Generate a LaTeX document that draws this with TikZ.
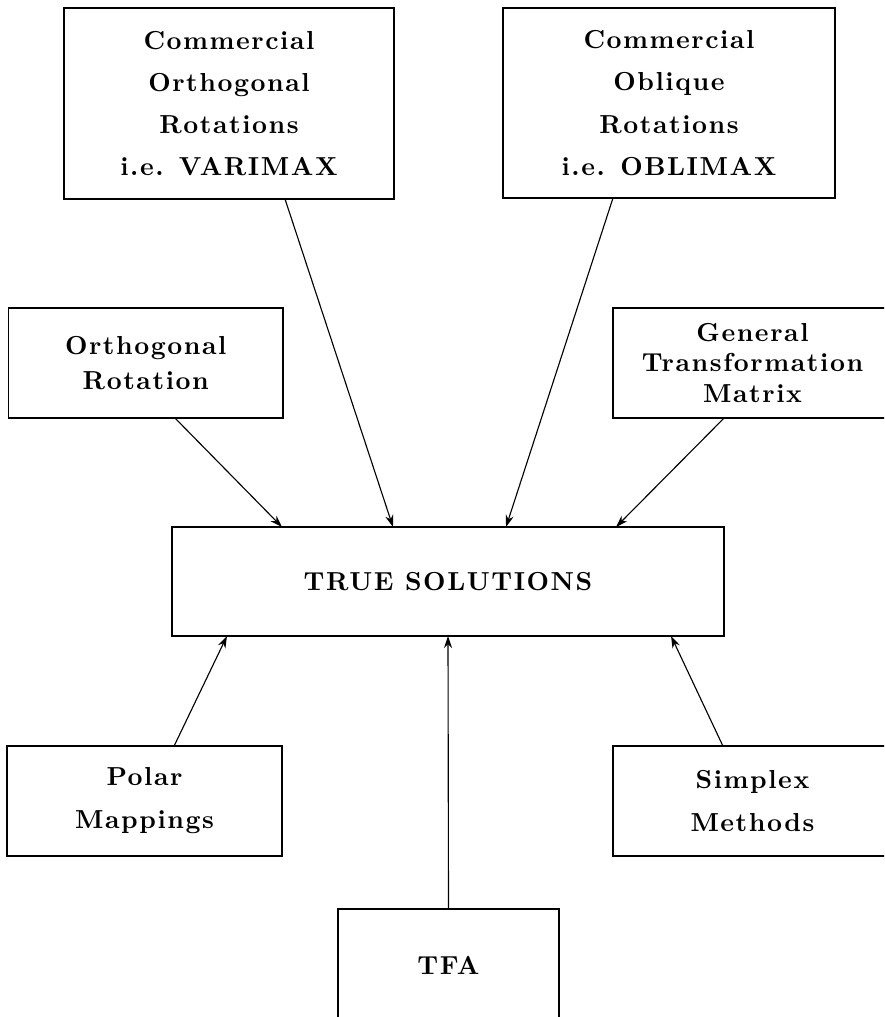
\documentclass[tikz,border=0pt]{standalone}
\usepackage{fontspec}
\usepackage{tikz}
\usetikzlibrary{positioning, arrows.meta}
\newfontfamily\spacedbf{lmroman10-bold}[Extension=.otf, LetterSpace=6]
\newcommand{\boxfont}[1]{\fontsize{18.5}{#1}\selectfont\spacedbf}

\begin{document}
\begin{tikzpicture}[x=0.025cm, y=-0.025cm,
  box/.style={draw, line width=1.3pt, inner sep=0pt, outer sep=0pt, align=center, font=\boxfont{#1}},
  box/.default=30pt,
  feed/.style={-{Stealth[length=3mm, width=2mm]}, line width=0.8pt}]
\clip (0,0) rectangle (884,1017);
% upper row
\node (comorth) [box, minimum width=8.25cm, minimum height=4.775cm] at (229,103.5) {Commercial\\Orthogonal\\Rotations\\i.e. VARIMAX};
\node (comobl) [box, minimum width=8.3cm, minimum height=4.75cm] at (669,103) {Commercial\\Oblique\\Rotations\\i.e. OBLIMAX};
\node (orthrot) [box=25pt, minimum width=6.86cm, minimum height=2.75cm] at (145.75,363) {Orthogonal\\Rotation};
\node (gentrans) [box=22pt, minimum width=6.975cm, minimum height=2.75cm] at (752.5,363) {General\\Transformation\\Matrix};
% centre
\node (truesol) [box, minimum width=13.8cm, minimum height=2.725cm] at (448,581.5) {TRUE SOLUTIONS};
% lower row
\node (polar) [box=30.5pt, minimum width=6.875cm, minimum height=2.75cm] at (144.5,801) {Polar\\Mappings};
\node (simplex) [box=30.5pt, minimum width=6.975cm, minimum height=2.75cm] at (752.5,801) {Simplex\\Methods};
\node (tfa) [box, minimum width=5.525cm, minimum height=2.8cm] at (448.5,965) {TFA};
% arrows into TRUE SOLUTIONS
\draw[feed] ([xshift=0.73cm]orthrot.south) -- ([xshift=-4.15cm]truesol.north);
\draw[feed] ([xshift=1.4cm]comorth.south) -- ([xshift=-1.375cm]truesol.north);
\draw[feed] ([xshift=-1.4cm]comobl.south) -- ([xshift=1.45cm]truesol.north);
\draw[feed] ([xshift=-0.71cm]gentrans.south) -- ([xshift=4.2cm]truesol.north);
\draw[feed] ([xshift=0.74cm]polar.north) -- ([xshift=-5.525cm]truesol.south);
\draw[feed] (tfa.north) -- (truesol.south);
\draw[feed] ([xshift=-0.74cm]simplex.north) -- ([xshift=5.575cm]truesol.south);
\end{tikzpicture}
\end{document}
